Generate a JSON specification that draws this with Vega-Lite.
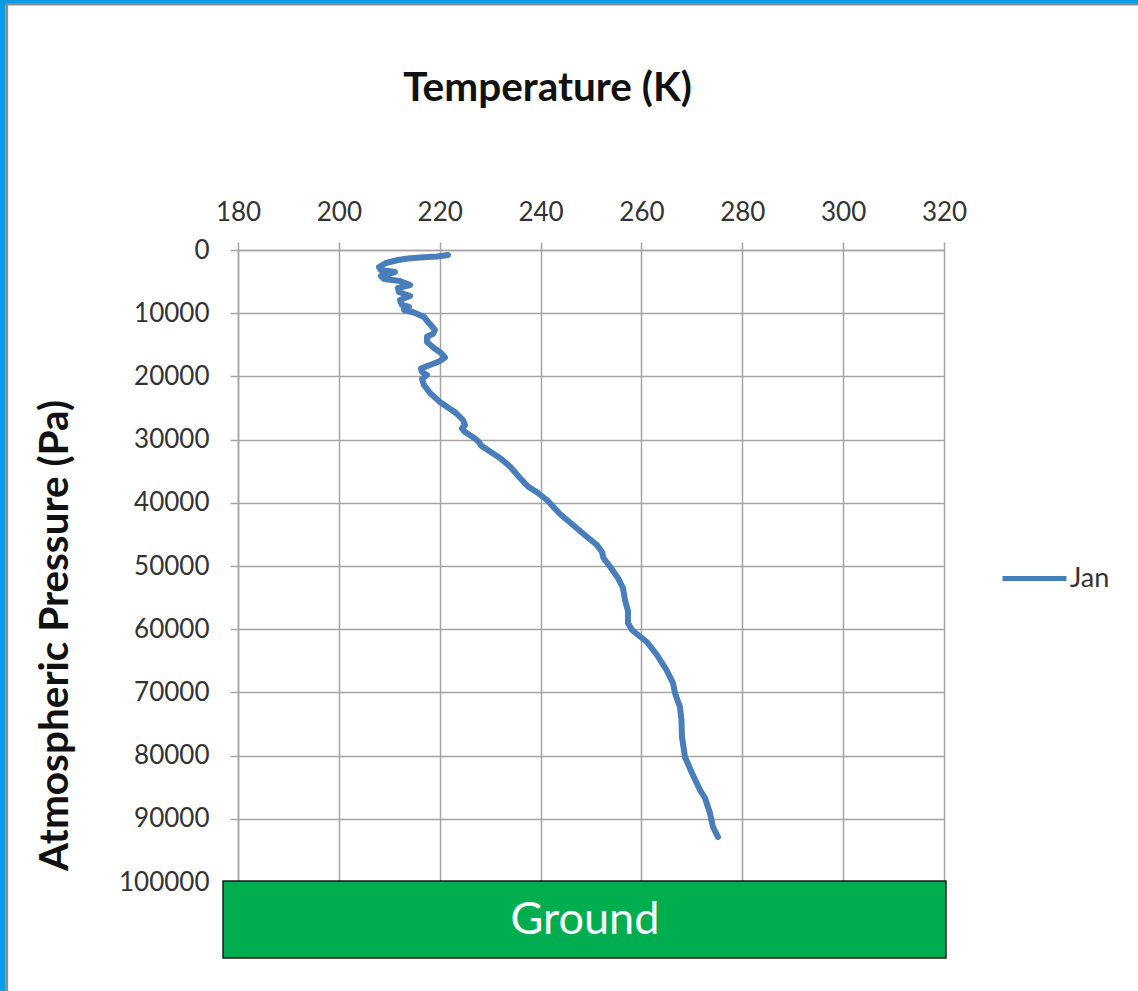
{
  "$schema": "https://vega.github.io/schema/vega-lite/v6.json",
  "width": 706,
  "height": 632,
  "autosize": {"type": "none"},
  "padding": {"left": 238, "top": 250, "right": 194, "bottom": 109},
  "background": "white",
  "config": {"view": {"stroke": null}, "font": "Lato"},
  "encoding": {
    "x": {
      "field": "temperature",
      "type": "quantitative",
      "title": "Temperature (K)",
      "scale": {"domain": [180, 320], "nice": false, "zero": false},
      "axis": {
        "orient": "top",
        "values": [180, 200, 220, 240, 260, 280, 300, 320],
        "grid": true,
        "gridColor": "#a5a5a5",
        "gridWidth": 1.5,
        "tickColor": "#a5a5a5",
        "tickWidth": 1.5,
        "tickSize": 8,
        "domainColor": "#a5a5a5",
        "domainWidth": 1.5,
        "labelFont": "Lato",
        "labelFontSize": 26,
        "labelColor": "#333333",
        "labelPadding": 17,
        "labelFlush": false,
        "labelOverlap": false,
        "titleFont": "Lato",
        "titleFontSize": 40.5,
        "titleFontWeight": "bold",
        "titleColor": "#111111",
        "titleX": 309,
        "titleY": -162,
        "titleAlign": "center",
        "titleBaseline": "middle"
      }
    },
    "y": {
      "field": "pressure",
      "type": "quantitative",
      "title": "Atmospheric Pressure (Pa)",
      "scale": {"domain": [0, 100000], "nice": false, "zero": false, "reverse": true},
      "axis": {
        "orient": "left",
        "values": [0, 10000, 20000, 30000, 40000, 50000, 60000, 70000, 80000, 90000, 100000],
        "format": "d",
        "grid": true,
        "gridColor": "#a5a5a5",
        "gridWidth": 1.5,
        "tickColor": "#a5a5a5",
        "tickWidth": 1.5,
        "tickSize": 8,
        "domainColor": "#a5a5a5",
        "domainWidth": 1.5,
        "labelFont": "Lato",
        "labelFontSize": 26,
        "labelColor": "#333333",
        "labelPadding": 21,
        "labelFlush": false,
        "labelOverlap": false,
        "titleFont": "Lato",
        "titleFontSize": 40.5,
        "titleFontWeight": "bold",
        "titleColor": "#111111",
        "titleAngle": -90,
        "titleX": -183,
        "titleY": 385,
        "titleAlign": "center",
        "titleBaseline": "middle"
      }
    }
  },
  "layer": [
    {
      "data": {"values": [
        {"temperature": 133.35, "temperature_end": 133.35, "pressure": -39558, "pressure_end": 117250},
        {"temperature": 132.8, "temperature_end": 358.5, "pressure": -39320, "pressure_end": -39320}
      ]},
      "mark": {"type": "rule", "color": "#0b9be0", "strokeWidth": 6, "clip": false},
      "encoding": {
        "x2": {"field": "temperature_end"},
        "y2": {"field": "pressure_end"}
      }
    },
    {
      "data": {"values": [
        {"temperature": 134.2, "temperature_end": 134.2, "pressure": -38877, "pressure_end": 117250},
        {"temperature": 134.0, "temperature_end": 358.5, "pressure": -38877, "pressure_end": -38877}
      ]},
      "mark": {"type": "rule", "color": "#8c8c8c", "strokeWidth": 2.2, "clip": false},
      "encoding": {
        "x2": {"field": "temperature_end"},
        "y2": {"field": "pressure_end"}
      }
    },
    {
      "data": {"values": [
        {"temperature": 177.03, "temperature_end": 320.39, "pressure": 99843, "pressure_end": 112027}
      ]},
      "mark": {"type": "rect", "fill": "#00ad4f", "stroke": "#1a1a1a", "strokeWidth": 1.5, "clip": false},
      "encoding": {
        "x2": {"field": "temperature_end"},
        "y2": {"field": "pressure_end"}
      }
    },
    {
      "data": {"values": [
        {"temperature": 248.8, "pressure": 106014, "label": "Ground"}
      ]},
      "mark": {"type": "text", "font": "Lato", "fontSize": 45, "color": "white", "align": "center", "baseline": "middle", "clip": false},
      "encoding": {
        "text": {"field": "label", "type": "nominal"}
      }
    },
    {
      "data": {"values": [
        {"month": "Jan", "temperature": 221.64, "pressure": 791},
        {"month": "Jan", "temperature": 219.46, "pressure": 1028},
        {"month": "Jan", "temperature": 216.09, "pressure": 1187},
        {"month": "Jan", "temperature": 213.71, "pressure": 1345},
        {"month": "Jan", "temperature": 211.73, "pressure": 1582},
        {"month": "Jan", "temperature": 209.35, "pressure": 2057},
        {"month": "Jan", "temperature": 207.96, "pressure": 2690},
        {"month": "Jan", "temperature": 208.36, "pressure": 3165},
        {"month": "Jan", "temperature": 211.13, "pressure": 3481},
        {"month": "Jan", "temperature": 209.74, "pressure": 3798},
        {"month": "Jan", "temperature": 208.36, "pressure": 4114},
        {"month": "Jan", "temperature": 208.95, "pressure": 4589},
        {"month": "Jan", "temperature": 212.12, "pressure": 4905},
        {"month": "Jan", "temperature": 214.11, "pressure": 5538},
        {"month": "Jan", "temperature": 211.73, "pressure": 6013},
        {"month": "Jan", "temperature": 211.92, "pressure": 6646},
        {"month": "Jan", "temperature": 214.11, "pressure": 7279},
        {"month": "Jan", "temperature": 212.12, "pressure": 7912},
        {"month": "Jan", "temperature": 212.52, "pressure": 8703},
        {"month": "Jan", "temperature": 213.91, "pressure": 9019},
        {"month": "Jan", "temperature": 212.92, "pressure": 9494},
        {"month": "Jan", "temperature": 214.90, "pressure": 9889},
        {"month": "Jan", "temperature": 216.88, "pressure": 10601},
        {"month": "Jan", "temperature": 217.87, "pressure": 11551},
        {"month": "Jan", "temperature": 219.06, "pressure": 12658},
        {"month": "Jan", "temperature": 218.67, "pressure": 13291},
        {"month": "Jan", "temperature": 217.48, "pressure": 13687},
        {"month": "Jan", "temperature": 217.48, "pressure": 14557},
        {"month": "Jan", "temperature": 218.86, "pressure": 15507},
        {"month": "Jan", "temperature": 220.25, "pressure": 16298},
        {"month": "Jan", "temperature": 221.05, "pressure": 17010},
        {"month": "Jan", "temperature": 219.86, "pressure": 17643},
        {"month": "Jan", "temperature": 218.07, "pressure": 18196},
        {"month": "Jan", "temperature": 216.29, "pressure": 18750},
        {"month": "Jan", "temperature": 216.49, "pressure": 19304},
        {"month": "Jan", "temperature": 217.48, "pressure": 19779},
        {"month": "Jan", "temperature": 216.49, "pressure": 20412},
        {"month": "Jan", "temperature": 216.88, "pressure": 21361},
        {"month": "Jan", "temperature": 218.07, "pressure": 22627},
        {"month": "Jan", "temperature": 220.05, "pressure": 24051},
        {"month": "Jan", "temperature": 223.23, "pressure": 25791},
        {"month": "Jan", "temperature": 224.62, "pressure": 26899},
        {"month": "Jan", "temperature": 225.01, "pressure": 27690},
        {"month": "Jan", "temperature": 224.42, "pressure": 28244},
        {"month": "Jan", "temperature": 225.01, "pressure": 28798},
        {"month": "Jan", "temperature": 226.99, "pressure": 29826},
        {"month": "Jan", "temperature": 227.79, "pressure": 30380},
        {"month": "Jan", "temperature": 228.18, "pressure": 30934},
        {"month": "Jan", "temperature": 229.97, "pressure": 31883},
        {"month": "Jan", "temperature": 231.95, "pressure": 32912},
        {"month": "Jan", "temperature": 233.93, "pressure": 34257},
        {"month": "Jan", "temperature": 235.92, "pressure": 36076},
        {"month": "Jan", "temperature": 237.50, "pressure": 37421},
        {"month": "Jan", "temperature": 239.49, "pressure": 38450},
        {"month": "Jan", "temperature": 241.27, "pressure": 39558},
        {"month": "Jan", "temperature": 242.46, "pressure": 40586},
        {"month": "Jan", "temperature": 243.85, "pressure": 41773},
        {"month": "Jan", "temperature": 246.43, "pressure": 43513},
        {"month": "Jan", "temperature": 249.00, "pressure": 45254},
        {"month": "Jan", "temperature": 251.19, "pressure": 46678},
        {"month": "Jan", "temperature": 252.18, "pressure": 47785},
        {"month": "Jan", "temperature": 252.47, "pressure": 48735},
        {"month": "Jan", "temperature": 253.96, "pressure": 50317},
        {"month": "Jan", "temperature": 255.35, "pressure": 51899},
        {"month": "Jan", "temperature": 256.34, "pressure": 53480},
        {"month": "Jan", "temperature": 256.74, "pressure": 55381},
        {"month": "Jan", "temperature": 257.33, "pressure": 57121},
        {"month": "Jan", "temperature": 257.33, "pressure": 59020},
        {"month": "Jan", "temperature": 258.13, "pressure": 60127},
        {"month": "Jan", "temperature": 259.71, "pressure": 61156},
        {"month": "Jan", "temperature": 261.10, "pressure": 62026},
        {"month": "Jan", "temperature": 263.08, "pressure": 64083},
        {"month": "Jan", "temperature": 264.97, "pressure": 66457},
        {"month": "Jan", "temperature": 266.26, "pressure": 68514},
        {"month": "Jan", "temperature": 266.65, "pressure": 70096},
        {"month": "Jan", "temperature": 267.64, "pressure": 72311},
        {"month": "Jan", "temperature": 267.94, "pressure": 74368},
        {"month": "Jan", "temperature": 268.04, "pressure": 77059},
        {"month": "Jan", "temperature": 268.64, "pressure": 80224},
        {"month": "Jan", "temperature": 270.02, "pressure": 82754},
        {"month": "Jan", "temperature": 271.61, "pressure": 85444},
        {"month": "Jan", "temperature": 272.60, "pressure": 86710},
        {"month": "Jan", "temperature": 273.59, "pressure": 89083},
        {"month": "Jan", "temperature": 274.19, "pressure": 91299},
        {"month": "Jan", "temperature": 275.18, "pressure": 92881}
      ]},
      "mark": {"type": "line", "strokeWidth": 6, "strokeCap": "round", "strokeJoin": "round", "clip": false},
      "encoding": {
        "order": {"field": "pressure", "type": "quantitative"},
        "color": {
          "field": "month",
          "type": "nominal",
          "scale": {"domain": ["Jan"], "range": ["#4a7ebb"]},
          "legend": {
            "orient": "none",
            "legendX": 762,
            "legendY": 294,
            "title": null,
            "symbolType": "stroke",
            "symbolSize": 4096,
            "symbolStrokeWidth": 5,
            "labelFont": "Lato",
            "labelFontSize": 27,
            "labelColor": "#333333",
            "labelOffset": 1
          }
        }
      }
    }
  ]
}
